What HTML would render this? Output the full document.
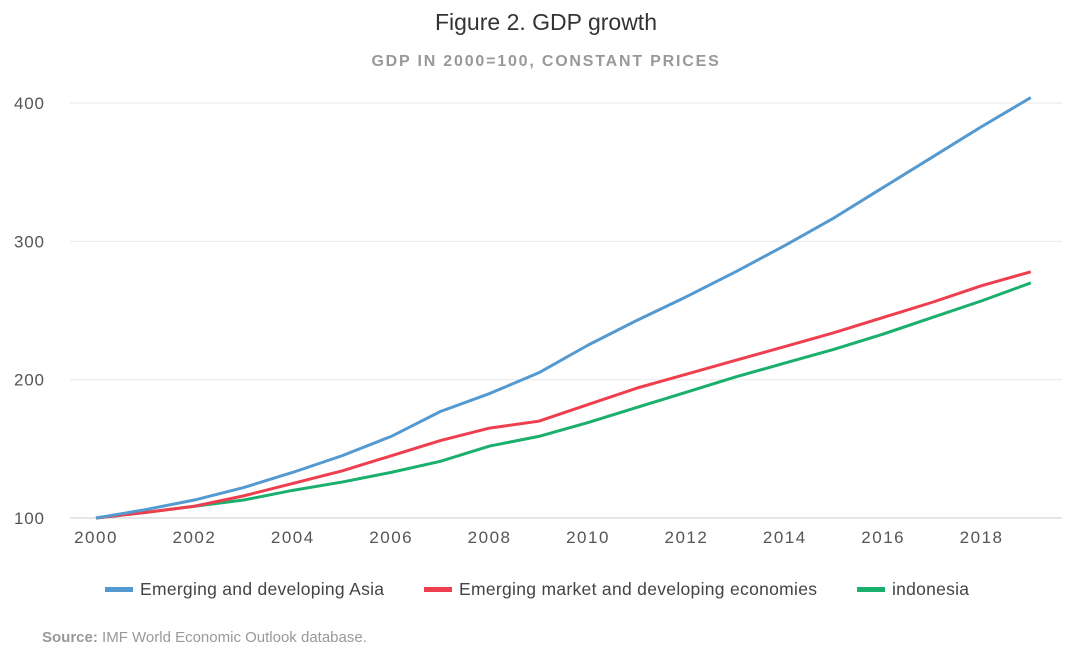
<!DOCTYPE html>
<html><head><meta charset="utf-8">
<style>
body{margin:0;background:#fff;width:1080px;height:656px;overflow:hidden;font-family:"Liberation Sans",sans-serif;}
svg{display:block}
</style></head>
<body>
<svg id="chart" width="1080" height="656">
<text x="546" y="30" text-anchor="middle" font-size="23" fill="#333">Figure 2. GDP growth</text>
<text x="546" y="66" text-anchor="middle" font-size="16" font-weight="bold" fill="#999" letter-spacing="1.8">GDP IN 2000=100, CONSTANT PRICES</text>
<g id="grid"></g><g id="xt"></g><g id="lines"></g>
<g>
<g><rect x="105" y="587" width="28" height="5" fill="#5499cf"/><text x="140" y="595" font-size="17.5" fill="#444" textLength="244">Emerging and developing Asia</text></g>
<g><rect x="424" y="587" width="28" height="5" fill="#ef3f4e"/><text x="459" y="595" font-size="17.5" fill="#444" textLength="358">Emerging market and developing economies</text></g>
<g><rect x="857" y="587" width="28" height="5" fill="#1aaf6c"/><text x="892" y="595" font-size="17.5" fill="#444" textLength="77">indonesia</text></g>
</g>
<text x="42" y="642" font-size="15" fill="#999" font-family="'Liberation Sans Narrow','Liberation Sans',sans-serif"><tspan font-weight="bold">Source:</tspan> IMF World Economic Outlook database.</text>
</svg>
<script>
const years=[2000,2001,2002,2003,2004,2005,2006,2007,2008,2009,2010,2011,2012,2013,2014,2015,2016,2017,2018,2019];
const asia=[100,106,113,122,133,145,159,177,190,205,225,243,260,278,297,317,339,361,383,404];
const emde=[100,104,108.5,116,125,134,145,156,165,170,182,194,204,214,224,234,245,256,268,278];
const indonesia=[100,104,108.5,113,120,126,133,141,152,159,169,180,191,202,212,222,233,245,257,270];
const yTicks=[100,200,300,400];
const xTicks=[2000,2002,2004,2006,2008,2010,2012,2014,2016,2018];
const NS="http://www.w3.org/2000/svg";
const x=v=>96+(v-2000)*49.2;
const y=v=>518-(v-100)*1.383;
function mk(t,a,p){const e=document.createElementNS(NS,t);for(const k in a)e.setAttribute(k,a[k]);p.appendChild(e);return e;}
const g=document.getElementById('grid'),xt=document.getElementById('xt'),L=document.getElementById('lines');
yTicks.forEach(v=>{
 const l=mk('line',{x1:70,x2:1062,y1:y(v),y2:y(v),stroke:v===100?'#ccc':'#e8e8e8','stroke-width':1},g);
 
 
 const t=mk('text',{x:14,y:y(v)+6,'font-size':17,fill:'#555','letter-spacing':0.8},g);t.textContent=v;
 
 
});
xTicks.forEach(v=>{
 const t=mk('text',{x:x(v),y:543,'font-size':17,fill:'#555','text-anchor':'middle','letter-spacing':1.5},xt);t.textContent=v;
 
 
});
[[indonesia,'#1aaf6c','line-indonesia'],[emde,'#ef3f4e','line-emde'],[asia,'#5499cf','line-asia']].forEach(([s,c,n])=>{
 const p=mk('polyline',{points:s.map((v,i)=>x(years[i])+','+y(v)).join(' '),fill:'none',stroke:c,'stroke-width':3,'stroke-linejoin':'round'},L);
 
 
});
</script>
</body></html>
